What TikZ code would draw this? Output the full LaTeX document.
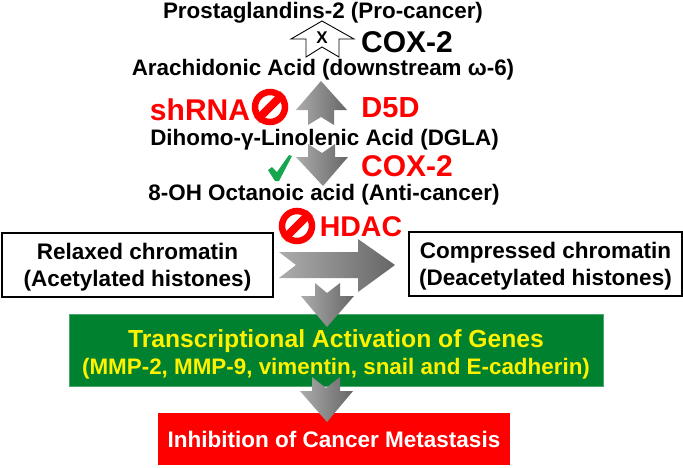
\documentclass[tikz,border=0pt]{standalone}
\usepackage{fontspec}
\setmainfont{Liberation Sans}
\definecolor{genegreen}{HTML}{00812F}
\definecolor{tickgreen}{HTML}{17A650}
\tikzset{
  compound/.style={
    font=\fontsize{22.4}{26}\selectfont\bfseries,
    inner sep=0pt,
  },
  enzyme/.style={
    font=\fontsize{#1}{30}\selectfont\bfseries,
    text=red,
    inner sep=0pt,
  },
  chromatin/.style={
    rectangle,
    draw=black,
    fill=white,
    line width=2.6pt,
    align=center,
    inner sep=0pt,
    font=\fontsize{22.5}{27}\selectfont\bfseries,
  },
  flowarrow/.style={
    draw=none,
    left color=gray!65,
    right color=black!60,
  },
  nosign/.style={
    circle,
    draw=red,
    fill=white,
    line width=6.5pt,
    minimum size=30pt,
    inner sep=0pt,
  },
}

\begin{document}
\begin{tikzpicture}[x=1pt, y=-1pt]
  \useasboundingbox (0, 0) rectangle (683, 467);

  % arrows go first, the texts sit on top of them
  \draw[flowarrow] (321, 81) -- (347, 110) -- (334, 110) -- (334, 125) -- (321, 117)
    -- (308, 125) -- (308, 110) -- (296, 110) -- cycle;
  \draw[flowarrow] (308, 144) -- (322, 153) -- (335, 144) -- (335, 157) -- (348, 157)
    -- (323, 186) -- (296, 157) -- (308, 157) -- cycle;
  \draw[flowarrow] (279, 252) -- (358, 252) -- (358, 239) -- (395, 265) -- (358, 292)
    -- (358, 278) -- (279, 278) -- (296, 265) -- cycle;
  \draw[black, fill=white, line width=0.9pt] (322, 21) -- (354, 39) -- (339, 39) -- (339, 57)
    -- (322, 47) -- (306, 57) -- (306, 39) -- (291, 39) -- cycle;

  \node[compound] (prostaglandins) at (323, 12.5) {Prostaglandins-2 (Pro-cancer)};
  \node[compound, font=\fontsize{17}{17}\selectfont\bfseries] (blocked) at (322, 38) {X};
  \node[enzyme=30, text=black] (coxtop) at (407, 42) {COX-2};
  \node[compound] (arachidonic) at (323, 70) {Arachidonic Acid (downstream ω-6)};
  \node[enzyme=30] (shrna) at (200, 110) {shRNA};
  \node[enzyme=29] (dfived) at (390.5, 108) {D5D};
  \node[compound] (dgla) at (324.5, 139.5) {Dihomo-γ-Linolenic Acid (DGLA)};
  \node[enzyme=30] (coxred) at (407, 166) {COX-2};
  \node[compound] (octanoic) at (324, 195) {8-OH Octanoic acid (Anti-cancer)};
  \node[enzyme=28.5] (hdac) at (361, 227) {HDAC};

  \foreach \name/\position in {noshrna/{(270, 107)}, nohdac/{(297, 226)}} {
    \node[nosign] (\name) at \position {};
    \draw[red, line width=8pt] (\name.south west) -- (\name.north east);
  }

  % check mark
  \fill[tickgreen] (268, 170) -- (272, 167) -- (277, 172) -- (289, 155) -- (292, 156)
    -- (279, 181) -- (275, 181) -- cycle;

  \node[chromatin, minimum width=271pt, minimum height=64pt] (relaxed) at (137.5, 265)
    {\rule{0pt}{20.5pt}Relaxed chromatin\\(Acetylated histones)};
  \node[chromatin, minimum width=273pt, minimum height=64pt] (compressed) at (545.5, 264)
    {\rule{0pt}{20.5pt}Compressed chromatin\\(Deacetylated histones)};

  \node[rectangle, fill=genegreen, draw=genegreen!70!white, minimum width=534pt, minimum height=72pt,
    inner sep=0pt, align=center, text=yellow] (genes) at (336, 350)
    {\rule{0pt}{26pt}\fontsize{24.7}{30}\selectfont\bfseries Transcriptional Activation of Genes\\[5pt]
     \fontsize{22.4}{28}\selectfont\bfseries (MMP-2, MMP-9, vimentin, snail and E-cadherin)};
  \node[rectangle, fill=red, minimum width=352pt, minimum height=52pt, inner sep=0pt,
    text=white, font=\fontsize{22.5}{24}\selectfont\bfseries] (inhibition) at (334, 439)
    {Inhibition of Cancer Metastasis};

  \draw[flowarrow] (315, 283) -- (327, 293) -- (340, 283) -- (340, 296) -- (354, 296)
    -- (327, 327) -- (301, 296) -- (315, 296) -- cycle;
  \draw[flowarrow] (312, 377) -- (326, 388) -- (340, 377) -- (340, 391) -- (353, 391)
    -- (327, 422) -- (300, 391) -- (312, 391) -- cycle;
\end{tikzpicture}
\end{document}
